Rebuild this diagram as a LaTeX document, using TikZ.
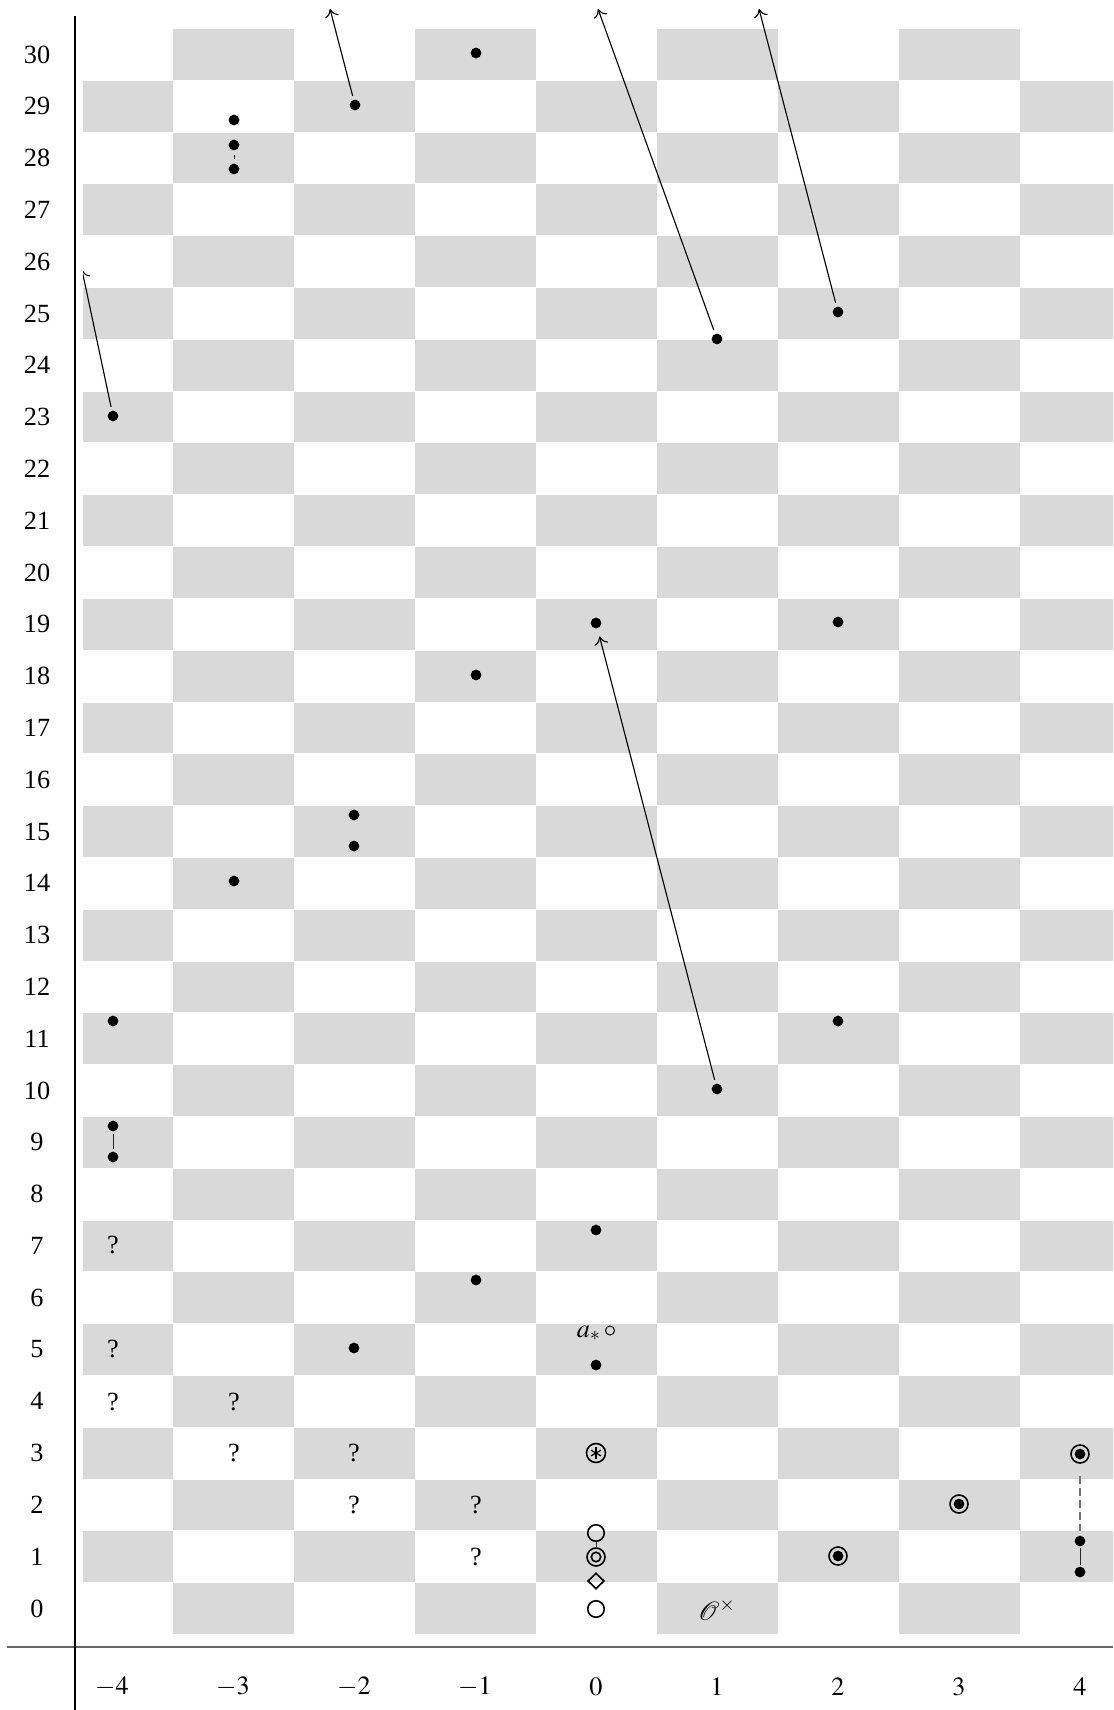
\documentclass[tikz,border=0pt]{standalone}
\usepackage{mathptmx}
\usepackage{fontspec}
\setmainfont{Liberation Serif}
\usetikzlibrary{shapes.geometric,arrows.meta}
\definecolor{cellgray}{gray}{0.85}
\begin{document}
\begin{tikzpicture}[x=0.4pt,y=-0.4pt,
  lbl/.style={font=\fontsize{10.5}{12}\selectfont, inner sep=0pt},
  dot/.style={circle,fill=black,inner sep=0pt,minimum size=4.3pt},
  ocirc/.style={circle,draw=black,line width=0.65pt,inner sep=0pt,minimum size=6.6pt},
  bigcirc/.style={circle,draw=black,line width=0.65pt,inner sep=0pt,minimum size=7.2pt},
  astcirc/.style={circle,draw=black,line width=0.65pt,inner sep=0pt,minimum size=7.6pt},
  diam/.style={diamond,draw=black,line width=0.65pt,inner sep=0pt,minimum width=6.6pt,minimum height=6.4pt},
  smallcirc/.style={circle,draw=black,line width=0.4pt,inner sep=0pt,minimum size=3.6pt},
  diff/.style={line width=0.45pt,-{Computer Modern Rightarrow[length=3.2pt,width=5.6pt]},shorten <=1.4pt},
  link/.style={line width=0.4pt,black!85},
  dlink/.style={line width=0.45pt,black!55,dash pattern=on 3.2pt off 1.6pt}]
\useasboundingbox (0,0) rectangle (1113,1710);
\fill[white] (0,0) rectangle (1113,1710);

\begin{scope}
\clip (83,0) rectangle (1113,1640);
% checkerboard
\foreach \c in {-4,...,4}{
  \foreach \r in {0,...,30}{
    \ifodd\numexpr\c+\r+40\relax
      \fill[cellgray] ({596+121*\c-60.5},{1608.5-51.8*\r-25.4}) rectangle ({596+121*\c+60.5},{1608.5-51.8*\r+25.4});
    \fi
  }
}
% dots
\node[dot] (d1) at (234,120) {};
\node[dot] (d2) at (234,145) {};
\node[dot] (d3) at (234,169) {};
\node[dot] (d4) at (355,105) {};
\node[dot] (d5) at (476,53) {};
\node[dot] (d6) at (717,339) {};
\node[dot] (d7) at (838,312) {};
\node[dot] (d8) at (113,416) {};
\node[dot] (d9) at (596,623) {};
\node[dot] (d10) at (838,622) {};
\node[dot] (d11) at (476,675) {};
\node[dot] (d12) at (354,815) {};
\node[dot] (d13) at (354,846) {};
\node[dot] (d14) at (234,881) {};
\node[dot] (d15) at (113,1021) {};
\node[dot] (d16) at (838,1021) {};
\node[dot] (d17) at (717,1089) {};
\node[dot] (d18) at (113,1126) {};
\node[dot] (d19) at (113,1157) {};
\node[dot] (d20) at (596,1230) {};
\node[dot] (d21) at (476,1280) {};
\node[dot] (d22) at (354,1348) {};
\node[dot] (d23) at (596,1365) {};
\node[dot] (d24) at (1080,1541) {};
\node[dot] (d25) at (1080,1572) {};
% question marks
\node[lbl] (q1) at (113,1245) {?};
\node[lbl] (q2) at (113,1349) {?};
\node[lbl] (q3) at (113,1402) {?};
\node[lbl] (q4) at (234,1402) {?};
\node[lbl] (q5) at (234,1453) {?};
\node[lbl] (q6) at (354,1453) {?};
\node[lbl] (q7) at (354,1505) {?};
\node[lbl] (q8) at (476,1505) {?};
\node[lbl] (q9) at (476,1557) {?};
% circled dots
\node[bigcirc] (c1) at (1080,1454) {};
\node[bigcirc] (c2) at (959,1504) {};
\node[bigcirc] (c3) at (838,1556) {};
\foreach \n in {c1,c2,c3}{\fill (\n.center) circle (2.15pt);}
% column 0 specials
\node[astcirc] (ca) at (596,1453) {};
\foreach \a in {90,150,210,270,330,30}{\draw[line width=0.5pt] (ca.center) -- ++(\a:2.3pt);}
\node[ocirc] (o1) at (596,1533) {};
\node[bigcirc] (dc) at (596,1557) {};
\draw[line width=0.65pt] (dc.center) circle (1.9pt);
\node[diam] (dm) at (596,1581) {};
\node[ocirc] (o0) at (596,1609) {};
\node[lbl,anchor=base] (astar) at (589,1337) {$a_*$};
\node[smallcirc] (sc) at (610,1330.5) {};
\node[lbl] (ox) at (717,1610) {$\mathcal{O}^{\times}$};
% connectors
\draw[link,shorten <=1.8pt,shorten >=1.8pt] (d2) -- (d3);
\draw[link,shorten <=0.7pt,shorten >=0.7pt] (d18) -- (d19);
\draw[link,shorten <=0.5pt,shorten >=0.5pt] (d24) -- (d25);
\draw[link] (o1) -- (dc);
\draw[dlink,shorten <=5pt,shorten >=1.6pt] (c1) -- (d24);
% differentials
\coordinate (t1) at (330,9);
\coordinate (t2) at (598,9);
\coordinate (t3) at (759,9);
\coordinate (t4) at (82,270);
\draw[diff] (d4) -- (t1);
\draw[diff] (d6) -- (t2);
\draw[diff] (d7) -- (t3);
\draw[diff] (d8) -- (t4);
\draw[diff,shorten >=3.2pt] (d17) -- (d9);
\end{scope}

% axes
\coordinate (ha) at (7,1647);
\coordinate (hb) at (1113,1647);
\coordinate (va) at (75,16);
\coordinate (vb) at (75,1710);
\draw[line width=0.45pt,black!60] (ha) -- (hb);
\draw[line width=0.45pt,black] (va) -- (vb);
% labels
\foreach \r in {0,...,30}{\node[lbl] (row\r) at (37,{1608.5-51.8*\r}) {\r};}
\foreach \c in {-4,...,4}{\node[lbl] (col\c) at ({596+121*\c},1687) {$\c$};}
\end{tikzpicture}
\end{document}
